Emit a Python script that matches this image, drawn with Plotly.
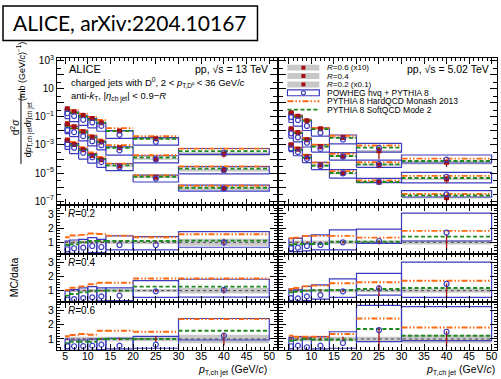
import plotly.graph_objects as go

W, H = 501, 379
FONT = "Liberation Sans, Arial, Helvetica, sans-serif"

# ---------------- jet pT bins (GeV/c) ----------------
edges_13 = [5, 6, 8, 10, 12, 14, 20, 30, 50]
edges_502 = [5, 6, 8, 10, 14, 20, 30, 50]

# ---------------- measured cross sections, mb (GeV/c)^-1 ----------------
# (R=0.6 scaled x10, R=0.4 unscaled, R=0.2 scaled x0.1)
xsec_13_r06 = [0.38, 0.234, 0.126, 0.076, 0.038, 0.010, 0.0028, 2.3e-4]
xsec_13_r04 = [0.032, 0.020, 0.0089, 0.0035, 0.0016, 6.3e-4, 1.0e-4, 1.6e-5]
xsec_13_r02 = [2.2e-3, 1.1e-3, 4.5e-4, 1.8e-4, 8.9e-5, 3.2e-5, 5.0e-6, 7.9e-7]
xsec_502_r06 = [0.20, 0.112, 0.054, 0.0141, 0.0034, 3.8e-4, 5.9e-5]
xsec_502_r04 = [0.0141, 0.0076, 0.0024, 7.6e-4, 1.55e-4, 3.7e-5, 3.7e-6]
xsec_502_r02 = [1.0e-3, 5.0e-4, 1.4e-4, 3.8e-5, 9.5e-6, 2.2e-6, 1.8e-7]

# relative statistical / systematic uncertainties of the data
stat_13_r02 = [0.03, 0.03, 0.03, 0.04, 0.05, 0.06, 0.10, 0.25]
stat_13_r04 = [0.03, 0.03, 0.03, 0.04, 0.05, 0.06, 0.10, 0.20]
stat_13_r06 = [0.04, 0.04, 0.04, 0.05, 0.06, 0.08, 0.20, 0.45]
syst_13_r02 = [0.15, 0.13, 0.12, 0.12, 0.12, 0.12, 0.12, 0.25]
syst_13_r04 = [0.12, 0.12, 0.12, 0.12, 0.12, 0.12, 0.12, 0.20]
syst_13_r06 = [0.15, 0.15, 0.15, 0.15, 0.15, 0.15, 0.15, 0.30]
stat_502_r02 = [0.04, 0.04, 0.05, 0.05, 0.08, 0.15, 0.55]
stat_502_r04 = [0.04, 0.05, 0.05, 0.06, 0.10, 0.40, 0.50]
stat_502_r06 = [0.05, 0.05, 0.06, 0.08, 0.15, 0.75, 0.55]
syst_502_r02 = [0.12, 0.12, 0.12, 0.12, 0.12, 0.12, 0.15]
syst_502_r04 = [0.12, 0.12, 0.12, 0.12, 0.12, 0.12, 0.15]
syst_502_r06 = [0.15, 0.15, 0.15, 0.15, 0.15, 0.15, 0.30]

# ---------------- MC / data ratios ----------------
# POWHEG hvq + PYTHIA 8: central, lower and upper edge of the uncertainty box
powheg_13_r02 = [0.51, 0.58, 0.62, 0.74, 0.67, 0.81, 0.81, 1.00]
powheg_lo_13_r02 = [0.22, 0.22, 0.22, 0.28, 0.28, 0.46, 0.46, 0.65]
powheg_hi_13_r02 = [1.09, 1.16, 1.20, 1.33, 1.20, 1.45, 1.40, 1.75]
hard_13_r02 = [1.35, 1.48, 1.52, 1.62, 1.58, 1.47, 1.35, 1.56]
soft_13_r02 = [0.81, 0.86, 1.00, 1.09, 1.09, 1.09, 1.09, 1.12]

powheg_13_r04 = [0.36, 0.41, 0.48, 0.53, 0.60, 0.65, 0.95, 1.05]
powheg_lo_13_r04 = [0.20, 0.20, 0.22, 0.25, 0.28, 0.30, 0.53, 0.55]
powheg_hi_13_r04 = [1.00, 1.07, 1.19, 1.28, 1.19, 1.19, 1.70, 1.80]
hard_13_r04 = [1.05, 1.20, 1.30, 1.45, 1.55, 1.55, 1.85, 1.85]
soft_13_r04 = [0.65, 0.76, 0.88, 0.95, 1.00, 1.00, 1.28, 1.28]

powheg_13_r06 = [0.49, 0.49, 0.50, 0.53, 0.60, 0.53, 0.60, 1.23]
powheg_lo_13_r06 = [0.20, 0.20, 0.20, 0.22, 0.25, 0.30, 0.35, 0.93]
powheg_hi_13_r06 = [1.00, 0.93, 0.93, 1.00, 1.00, 1.05, 1.19, 2.44]
hard_13_r06 = [1.19, 1.28, 1.35, 1.30, 1.58, 1.58, 1.51, 2.40]
soft_13_r06 = [0.70, 0.81, 0.81, 0.81, 1.00, 1.00, 1.00, 1.58]

powheg_502_r02 = [0.58, 0.62, 0.74, 0.81, 1.00, 1.09, 1.68]
powheg_lo_502_r02 = [0.34, 0.34, 0.40, 0.46, 0.46, 0.93, 1.09]
powheg_hi_502_r02 = [1.28, 1.28, 1.45, 1.52, 1.87, 1.92, 3.05]
hard_502_r02 = [1.28, 1.33, 1.45, 1.45, 1.45, 1.33, 1.80]
soft_502_r02 = [0.81, 0.86, 0.88, 0.88, 1.05, 1.05, 1.40]

powheg_502_r04 = [0.48, 0.46, 0.60, 0.69, 0.95, 1.16, 1.47]
powheg_lo_502_r04 = [0.22, 0.22, 0.30, 0.41, 0.53, 0.69, 0.53]
powheg_hi_502_r04 = [1.12, 1.05, 1.30, 1.40, 1.82, 2.22, 3.00]
hard_502_r04 = [1.12, 1.19, 1.30, 1.35, 1.52, 1.59, 1.70]
soft_502_r04 = [0.88, 0.92, 1.00, 1.03, 1.05, 1.12, 1.19]

powheg_502_r06 = [0.49, 0.53, 0.42, 0.53, 0.72, 1.63, 1.51]
powheg_lo_502_r06 = [0.20, 0.20, 0.20, 0.30, 0.35, 0.81, 0.88]
powheg_hi_502_r06 = [1.12, 1.16, 1.12, 1.16, 1.51, 3.37, 3.28]
hard_502_r06 = [1.23, 1.16, 1.16, 1.16, 1.35, 2.44, 1.81]
soft_502_r06 = [0.88, 0.92, 1.00, 0.95, 0.95, 1.70, 1.23]

log_tick_exponents = list(range(-7, 4))
ratio_ticks = [1, 2, 3]
x_ticks = [5, 10, 15, 20, 25, 30, 35, 40, 45, 50]

# ---------------- styling ----------------
C_RED = "#a50f0f"
C_BLUE = "#3b3bbd"
C_ORANGE = "#ff6a10"
C_GREEN = "#1f8a1f"
C_GREY = "#c8c8c8"
DASH_HARD = "6px,2px,1.5px,2px,1.5px,2px"
DASH_SOFT = "4px,2.5px"

# pixel frame of each pad
COLS = [(57, 278, [3.2, 51.8]), (280, 498, [2.9, 51.2])]
ROWS = [(55, 204), (204, 253), (253, 302), (302, 351)]
RATIO_RANGE = [0.2, 3.6]


def PX(x):
    return x / W


def PY(y):
    return 1 - y / H


def ids(row, col):
    k = row * 2 + col + 1
    s = "" if k == 1 else str(k)
    return "x" + s, "y" + s, "xaxis" + s, "yaxis" + s


fig = go.Figure()


def line_trace(xa, ya, xs, ys, color, width, dash="solid"):
    fig.add_trace(go.Scatter(x=xs, y=ys, xaxis=xa, yaxis=ya, mode="lines",
                             line=dict(color=color, width=width, dash=dash),
                             showlegend=False, hoverinfo="skip"))


def draw_group(xa, ya, edges, ref, stat, syst, pw, pw_lo, pw_hi, hard, soft, ratio):
    lo_e, hi_e = edges[:-1], edges[1:]
    mid = [(a + b) / 2 for a, b in zip(lo_e, hi_e)]
    # data systematic band
    bx, by = [], []
    for a, b, r, e in zip(lo_e, hi_e, ref, syst):
        bx += [a, b, b, a, a, None]
        by += [r * (1 - e), r * (1 - e), r * (1 + e), r * (1 + e), r * (1 - e), None]
    fig.add_trace(go.Scatter(x=bx, y=by, xaxis=xa, yaxis=ya, mode="lines", fill="toself",
                             fillcolor=C_GREY, line=dict(width=0, color=C_GREY),
                             showlegend=False, hoverinfo="skip"))
    if ratio:
        line_trace(xa, ya, [edges[0], edges[-1]], [1, 1], "#444444", 1, "dot")
    # POWHEG boxes
    qx, qy = [], []
    for a, b, r, l, h in zip(lo_e, hi_e, ref, pw_lo, pw_hi):
        qx += [a, b, b, a, a, None]
        qy += [r * l, r * l, r * h, r * h, r * l, None]
    line_trace(xa, ya, qx, qy, C_BLUE, 1.2)
    # PYTHIA lines
    for vals, col, dash in ((hard, C_ORANGE, DASH_HARD), (soft, C_GREEN, DASH_SOFT)):
        hx, hy = [], []
        for a, b, r, v in zip(lo_e, hi_e, ref, vals):
            hx += [a, b, None]
            hy += [r * v, r * v, None]
        line_trace(xa, ya, hx, hy, col, 1.9, dash)
    # statistical error bars
    ex, ey = [], []
    for m, r, e in zip(mid, ref, stat):
        ex += [m, m, None]
        ey += [max(r * (1 - e), r * 0.05), r * (1 + e), None]
    line_trace(xa, ya, ex, ey, C_RED, 1.3)
    if not ratio:
        fig.add_trace(go.Scatter(x=mid, y=ref, xaxis=xa, yaxis=ya, mode="markers",
                                 marker=dict(symbol="square", size=5, color=C_RED),
                                 showlegend=False, hoverinfo="skip"))
    fig.add_trace(go.Scatter(x=mid, y=[r * p for r, p in zip(ref, pw)], xaxis=xa, yaxis=ya,
                             mode="markers",
                             marker=dict(symbol="circle-open", size=5, color=C_BLUE,
                                         line=dict(width=1.2, color=C_BLUE)),
                             showlegend=False, hoverinfo="skip"))


energy_sets = [
    (0, edges_13, [
        (xsec_13_r06, stat_13_r06, syst_13_r06, powheg_13_r06, powheg_lo_13_r06, powheg_hi_13_r06, hard_13_r06, soft_13_r06),
        (xsec_13_r04, stat_13_r04, syst_13_r04, powheg_13_r04, powheg_lo_13_r04, powheg_hi_13_r04, hard_13_r04, soft_13_r04),
        (xsec_13_r02, stat_13_r02, syst_13_r02, powheg_13_r02, powheg_lo_13_r02, powheg_hi_13_r02, hard_13_r02, soft_13_r02),
    ]),
    (1, edges_502, [
        (xsec_502_r06, stat_502_r06, syst_502_r06, powheg_502_r06, powheg_lo_502_r06, powheg_hi_502_r06, hard_502_r06, soft_502_r06),
        (xsec_502_r04, stat_502_r04, syst_502_r04, powheg_502_r04, powheg_lo_502_r04, powheg_hi_502_r04, hard_502_r04, soft_502_r04),
        (xsec_502_r02, stat_502_r02, syst_502_r02, powheg_502_r02, powheg_lo_502_r02, powheg_hi_502_r02, hard_502_r02, soft_502_r02),
    ]),
]

for col, edges, groups in energy_sets:
    # spectra pad
    xa, ya, _, _ = ids(0, col)
    for xs, st, sy, pw, pl, ph, hd, sf in groups:
        draw_group(xa, ya, edges, xs, st, sy, pw, pl, ph, hd, sf, ratio=False)
    # ratio pads: R=0.2, 0.4, 0.6 from top to bottom
    for row, grp in zip((1, 2, 3), (groups[2], groups[1], groups[0])):
        xs, st, sy, pw, pl, ph, hd, sf = grp
        xa, ya, _, _ = ids(row, col)
        draw_group(xa, ya, edges, [1.0] * len(xs), st, sy, pw, pl, ph, hd, sf, ratio=True)

# ---------------- axes ----------------
layout = dict(width=W, height=H, margin=dict(l=0, r=0, t=0, b=0),
              paper_bgcolor="white", plot_bgcolor="white", showlegend=False,
              font=dict(family=FONT, color="black", size=10))


def sup_label(e):
    if e == 1:
        return "10"
    if e == 0:
        return "1"
    return "10<sup>" + str(e).replace("-", "\u2212") + "</sup>"


for row, (y0, y1) in enumerate(ROWS):
    for col, (x0, x1, xr) in enumerate(COLS):
        xa, ya, xk, yk = ids(row, col)
        layout[xk] = dict(domain=[PX(x0), PX(x1)], range=xr, anchor=ya,
                          tickmode="array", tickvals=x_ticks,
                          showticklabels=(row == 3), ticks="inside", ticklen=6,
                          tickcolor="black", mirror="allticks", showline=True,
                          linecolor="black", linewidth=1, showgrid=False, zeroline=False,
                          tickfont=dict(size=10.5), ticklabelstandoff=-4,
                          minor=dict(dtick=1, tick0=0, ticks="inside", ticklen=3,
                                     tickcolor="black", showgrid=False))
        if row == 0:
            layout[yk] = dict(domain=[PY(y1), PY(y0)], type="log", range=[-7.3, 3.18],
                              anchor=xa, tickmode="array",
                              tickvals=[10.0 ** e for e in log_tick_exponents],
                              ticktext=[sup_label(e) if e % 2 else "" for e in log_tick_exponents],
                              showticklabels=(col == 0), ticks="inside", ticklen=7,
                              tickcolor="black", mirror="allticks", showline=True,
                              linecolor="black", linewidth=1, showgrid=False, zeroline=False,
                              tickfont=dict(size=10),
                              minor=dict(tickmode="array",
                                         tickvals=[3 * 10.0 ** e for e in range(-8, 3)],
                                         ticks="inside", ticklen=4, tickcolor="black",
                                         showgrid=False))
        else:
            layout[yk] = dict(domain=[PY(y1), PY(y0)], range=RATIO_RANGE, anchor=xa,
                              tickmode="array", tickvals=ratio_ticks,
                              showticklabels=(col == 0), ticks="inside", ticklen=7,
                              tickcolor="black", mirror="allticks", showline=True,
                              linecolor="black", linewidth=1, showgrid=False, zeroline=False,
                              tickfont=dict(size=10.5),
                              minor=dict(dtick=0.2, tick0=0, ticks="inside", ticklen=3.5,
                                         tickcolor="black", showgrid=False))

fig.update_layout(**layout)

# ---------------- text ----------------
ann = []
shapes = []


def text(x, y, s, size=10, xanchor="left", angle=0, family=FONT):
    ann.append(dict(x=PX(x), y=PY(y), xref="paper", yref="paper", text=s, showarrow=False,
                    xanchor=xanchor, yanchor="middle", textangle=angle, borderpad=0,
                    font=dict(size=size, family=family, color="black")))


# header box
shapes.append(dict(type="rect", xref="paper", yref="paper", x0=PX(3), x1=PX(258),
                   y0=PY(37), y1=PY(2), line=dict(color="black", width=1.5)))
text(130, 19, "ALICE, arXiv:2204.10167", size=21, xanchor="center", family="Lato, Open Sans, sans-serif")

text(68, 66, "ALICE", size=11)
text(270, 66, "pp, \u221as = 13 TeV", size=10.5, xanchor="right")
text(70, 80, "charged jets with D<sup>0</sup>, 2 &lt; <i>p</i><sub>T,D\u2070</sub> &lt; 36 GeV/<i>c</i>", size=9.5)
text(70, 94, "anti-<i>k</i><sub>T</sub>, |<i>\u03b7</i><sub>ch jet</sub>| &lt; 0.9\u2212<i>R</i>", size=9.5)
text(491, 66, "pp, \u221as = 5.02 TeV", size=10.5, xanchor="right")

for y, lab in ((212, "<i>R</i>=0.2"), (262, "<i>R</i>=0.4"), (311, "<i>R</i>=0.6")):
    text(67, y, lab, size=10)

xtitle = "<i>p</i><sub>T,ch jet</sub> (GeV/<i>c</i>)"
text(269, 371, xtitle, size=10.5, xanchor="right")
text(497, 371, xtitle, size=10.5, xanchor="right")

text(14, 277, "MC/data", size=10.5, xanchor="center", angle=-90)

# spectra y title as a fraction
text(15, 125, "d<sup>2</sup><i>\u03c3</i>", size=10, xanchor="center", angle=-90)
shapes.append(dict(type="line", xref="paper", yref="paper", x0=PX(21), x1=PX(21),
                   y0=PY(162), y1=PY(92), line=dict(color="black", width=1)))
text(29, 127, "d<i>p</i><sub>T,ch jet</sub>d<i>\u03b7</i><sub>ch jet</sub>", size=9, xanchor="center", angle=-90)
text(21, 68, "(mb (GeV/<i>c</i>)<sup>\u22121</sup>)", size=9, xanchor="center", angle=-90)

# legend keys
LEG_SIZE = 8.5
LEG_ROWS = [64.5, 73, 81.5, 90, 98.5, 107]
for yc, lab in zip(LEG_ROWS[:3], ("<i>R</i>=0.6 (x10)", "<i>R</i>=0.4", "<i>R</i>=0.2 (x0.1)")):
    shapes.append(dict(type="rect", xref="paper", yref="paper", x0=PX(288), x1=PX(320),
                       y0=PY(yc + 3), y1=PY(yc - 3), fillcolor=C_GREY, line=dict(width=0)))
    shapes.append(dict(type="rect", xref="paper", yref="paper", x0=PX(302), x1=PX(306),
                       y0=PY(yc + 2), y1=PY(yc - 2), fillcolor=C_RED, line=dict(width=0)))
    text(327, yc, lab, size=8)
yb = LEG_ROWS[3]
shapes.append(dict(type="rect", xref="paper", yref="paper", x0=PX(288), x1=PX(320),
                   y0=PY(yb + 3), y1=PY(yb - 3), line=dict(color=C_BLUE, width=1.2)))
shapes.append(dict(type="circle", xref="paper", yref="paper", x0=PX(302), x1=PX(306),
                   y0=PY(yb + 2), y1=PY(yb - 2), line=dict(color=C_BLUE, width=1.1)))
text(327, yb, "POWHEG hvq + PYTHIA 8", size=LEG_SIZE)
yo = LEG_ROWS[4]
shapes.append(dict(type="line", xref="paper", yref="paper", x0=PX(288), x1=PX(320),
                   y0=PY(yo), y1=PY(yo), line=dict(color=C_ORANGE, width=1.9, dash=DASH_HARD)))
text(327, yo, "PYTHIA 8 HardQCD Monash 2013", size=LEG_SIZE)
yg = LEG_ROWS[5]
shapes.append(dict(type="line", xref="paper", yref="paper", x0=PX(288), x1=PX(320),
                   y0=PY(yg), y1=PY(yg), line=dict(color=C_GREEN, width=1.9, dash=DASH_SOFT)))
text(327, yg, "PYTHIA 8 SoftQCD Mode 2", size=LEG_SIZE)

fig.update_layout(annotations=ann, shapes=shapes)
fig.write_html("out.html")
